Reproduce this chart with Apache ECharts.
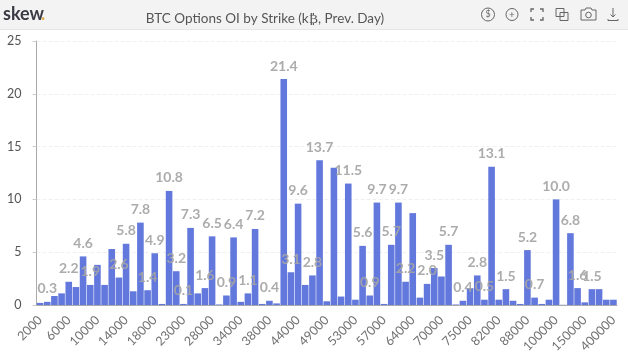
<!DOCTYPE html>
<html><head><meta charset="utf-8">
<style>html,body{margin:0;padding:0;background:#fff}#c{width:628px;height:360px}</style>
<script src="https://cdn.jsdelivr.net/npm/echarts@6/dist/echarts.min.js"></script></head>
<body><div id="c"></div>
<script>
const strikes=[2000,3000,4000,5000,6000,7000,8000,9000,10000,11000,12000,13000,14000,15000,16000,17000,18000,19000,20000,21000,23000,24000,25000,26000,28000,29000,30000,32000,34000,35000,36000,37000,38000,40000,42000,43000,44000,45000,46000,48000,49000,50000,51000,52000,53000,54000,55000,56000,57000,58000,60000,62000,64000,65000,66000,68000,70000,71000,72000,74000,75000,76000,78000,80000,82000,84000,85000,86000,88000,90000,95000,98000,100000,110000,120000,130000,150000,200000,250000,300000,400000];
const values=[0.2,0.3,0.85,1.1,2.2,1.7,4.6,1.9,3.8,1.9,5.3,2.6,5.8,1.3,7.8,1.4,4.9,0.1,10.8,3.2,0.1,7.3,1.1,1.6,6.5,0.05,0.9,6.4,0.3,1.1,7.2,0.1,0.4,0.15,21.4,3.1,9.6,1.9,2.8,13.7,0.35,13.0,0.8,11.5,0.5,5.6,0.9,9.7,0.1,5.7,9.7,2.2,8.7,0.7,2.0,3.5,2.7,5.7,0.05,0.4,1.6,2.8,0.5,13.1,0.5,1.5,0.4,0.1,5.2,0.7,0.1,0.5,10.0,0.02,6.8,1.6,0.25,1.5,1.5,0.5,0.5];
const labelled=[1,4,6,7,11,12,14,15,16,18,19,20,21,23,24,26,27,29,30,32,34,35,36,38,39,43,45,46,47,49,50,51,54,55,57,59,61,62,63,65,68,69,72,74,75,77];
const chart=echarts.init(document.getElementById('c'),null,{renderer:'canvas'});
const font='Lato';
const ic='#666';
chart.setOption({
 animation:false,backgroundColor:'#fff',
 title:{text:'BTC Options OI by Strike (k\u20BF, Prev. Day)',left:260,top:7,textAlign:'center',textStyle:{fontFamily:font,fontSize:13.5,fontWeight:'normal',color:'#555'}},
 grid:{left:36.5,right:11,top:41,bottom:55,containLabel:false},
 xAxis:{type:'category',data:strikes.map(String),
  axisLine:{lineStyle:{color:'#aaa'}},axisTick:{show:false},
  axisLabel:{interval:3,rotate:45,fontFamily:font,fontSize:12.5,color:'#707070',margin:13},splitLine:{show:false}},
 yAxis:{type:'value',min:0,max:25,interval:5,
  axisLine:{show:true,lineStyle:{color:'#aaa'}},axisTick:{show:true,length:4,lineStyle:{color:'#ccc'}},
  axisLabel:{fontFamily:font,fontSize:12.5,color:'#555',margin:15},
  splitLine:{lineStyle:{color:'#f0f0f0',type:'dashed'}}},
 series:[{type:'bar',barCategoryGap:'8%',
  data:values.map((v,i)=>({value:v,label:{show:labelled.includes(i)}})),
  itemStyle:{color:'#6278dc'},
  label:{position:'top',distance:6,formatter:p=>p.value.toFixed(1),fontFamily:font,fontSize:14,fontWeight:'bold',color:'rgba(165,165,165,0.92)'}}],
 graphic:[
  {type:'rect',z:-1,shape:{x:0,y:0,width:628,height:29},style:{fill:'#f3f3f3'}},
  {type:'rect',z:-1,shape:{x:0,y:29,width:628,height:1},style:{fill:'#e6e6e6'}},
  {type:'text',x:3,y:5,style:{text:'skew',font:'bold 18px Lato',fill:'#3a3a44'}},
  {type:'text',x:41,y:5,style:{text:'.',font:'bold 18px Lato',fill:'#e0b050'}},
  {type:'circle',shape:{cx:488,cy:14.5,r:6.5},style:{fill:'none',stroke:ic}},
  {type:'text',x:488,y:14.5,style:{text:'$',font:'9px Lato',fill:ic,align:'center',verticalAlign:'middle'}},
  {type:'circle',shape:{cx:512,cy:14.5,r:6},style:{fill:'none',stroke:ic}},
  {type:'text',x:512,y:14.5,style:{text:'+',font:'10px Lato',fill:ic,align:'center',verticalAlign:'middle'}},
  {type:'polyline',shape:{points:[[531,12],[531,9],[534,9]]},style:{fill:'none',stroke:ic,lineWidth:1.3}},
  {type:'polyline',shape:{points:[[540,9],[543,9],[543,12]]},style:{fill:'none',stroke:ic,lineWidth:1.3}},
  {type:'polyline',shape:{points:[[531,17],[531,20],[534,20]]},style:{fill:'none',stroke:ic,lineWidth:1.3}},
  {type:'polyline',shape:{points:[[540,20],[543,20],[543,17]]},style:{fill:'none',stroke:ic,lineWidth:1.3}},
  {type:'rect',shape:{x:556,y:8.5,width:8,height:8},style:{fill:'none',stroke:ic}},
  {type:'rect',shape:{x:560,y:12.5,width:8,height:8},style:{fill:'none',stroke:ic}},
  {type:'polyline',shape:{points:[[581,10],[585,10],[586,8],[591,8],[592,10],[596,10],[596,20],[581,20],[581,10]]},style:{fill:'none',stroke:ic}},
  {type:'circle',shape:{cx:588.5,cy:15,r:2.8},style:{fill:'none',stroke:ic}},
  {type:'polyline',shape:{points:[[613,8],[613,17]]},style:{fill:'none',stroke:ic}},
  {type:'polyline',shape:{points:[[610.5,14.5],[613,17],[615.5,14.5]]},style:{fill:'none',stroke:ic}},
  {type:'polyline',shape:{points:[[608,19],[608,20.5],[618,20.5],[618,19]]},style:{fill:'none',stroke:ic}}
 ]
});
</script></body></html>
